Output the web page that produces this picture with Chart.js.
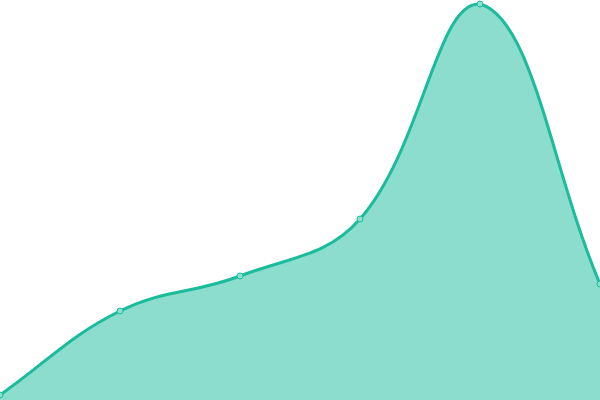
<!DOCTYPE html>
<html>
<head>
<meta charset="utf-8">
<script src="https://cdn.jsdelivr.net/npm/chart.js@4"></script>
<style>
  html, body { margin: 0; padding: 0; background: #fff; }
  #wrap { width: 600px; height: 400px; }
</style>
</head>
<body>
<div id="wrap"><canvas id="areaChart"></canvas></div>
<script>
const labels = ["1", "2", "3", "4", "5", "6"];
const values = [1.25, 22.25, 31, 45.25, 99, 29];

const ctx = document.getElementById("areaChart").getContext("2d");

new Chart(ctx, {
  type: "line",
  data: {
    labels: labels,
    datasets: [{
      data: values,
      borderColor: "#1abc9c",
      backgroundColor: "rgba(26, 188, 156, 0.5)",
      fill: true,
      tension: 0.4,
      borderWidth: 3,
      pointRadius: 3,
      pointBorderWidth: 1,
      pointBackgroundColor: "#8ce0cf",
      pointBorderColor: "#1abc9c",
      clip: false
    }]
  },
  options: {
    responsive: true,
    maintainAspectRatio: false,
    animation: false,
    layout: { padding: 0, autoPadding: false },
    plugins: { legend: { display: false }, tooltip: { enabled: false } },
    scales: {
      x: { display: false },
      y: { display: false, min: 0, max: 100 }
    }
  }
});
</script>
</body>
</html>
